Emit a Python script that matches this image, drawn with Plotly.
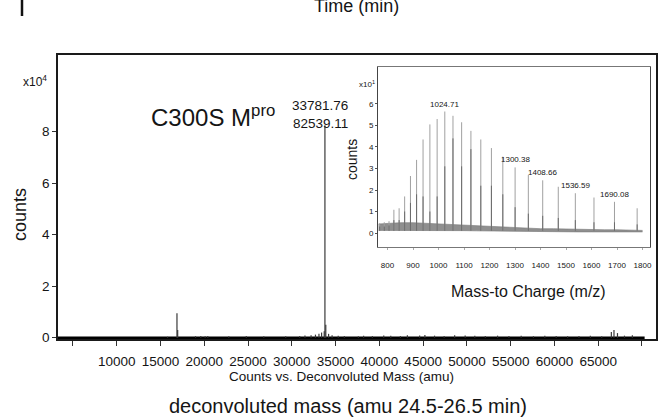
import plotly.graph_objects as go

# ---------------- data ----------------
# Main deconvoluted spectrum (mass in amu, counts in units of 1e4)
main_mass = [15800, 16880, 16960, 19000, 19600, 20100, 20400, 22800, 24800, 26800,
             29300, 30900, 31500, 32200, 32700, 33100, 33400, 33700, 33781.76, 33880,
             34200, 34600, 35300, 36000, 37600, 38200, 39200, 40500, 41300, 42400,
             43200, 44600, 45200, 46300, 47400, 48600, 49800, 50900, 52100, 53500,
             54800, 56200, 57600, 58900, 60200, 61500, 62800, 64100, 65400, 66500,
             66800, 67200, 68000, 68900]
main_counts = [0.04, 0.95, 0.3, 0.06, 0.07, 0.06, 0.07, 0.06, 0.07, 0.06,
               0.06, 0.07, 0.09, 0.1, 0.12, 0.15, 0.2, 0.25, 8.2539, 0.5,
               0.15, 0.1, 0.08, 0.07, 0.06, 0.08, 0.07, 0.09, 0.08, 0.07,
               0.1, 0.09, 0.11, 0.08, 0.07, 0.1, 0.09, 0.08, 0.07, 0.08,
               0.07, 0.08, 0.06, 0.08, 0.07, 0.06, 0.07, 0.08, 0.06, 0.22,
               0.3, 0.18, 0.08, 0.1]
main_baseline_mass = [3290, 70300]
main_baseline_counts = [0.0, 0.0]
main_xticks = [10000, 15000, 20000, 25000, 30000, 35000, 40000, 45000,
               50000, 55000, 60000, 65000]
main_xticklabels = ["10000", "15000", "20000", "25000", "30000", "35000", "40000",
                    "45000", "50000", "55000", "60000", "65000"]
main_xticks_unlabelled = [5000, 70000]
main_yticks = [0, 2, 4, 6, 8]

# Inset m/z spectrum (counts in units of 10^1 as labelled)
inset_mz = [769.3, 787.2, 805.9, 825.0, 845.5, 867.2, 890.0, 914.0, 939.4, 966.2,
            994.6, 1024.71, 1056.7, 1090.7, 1127.1, 1165.9, 1207.5, 1252.2, 1300.38,
            1352.3, 1408.66, 1469.7, 1536.59, 1609.7, 1690.08, 1779.0]
inset_int = [0.45, 0.5, 0.55, 1.08, 1.15, 1.7, 2.65, 3.4, 4.35, 5.05,
             5.3, 5.65, 5.45, 5.15, 4.75, 4.35, 3.95, 3.55, 3.05,
             2.7, 2.45, 2.15, 1.85, 1.65, 1.45, 1.15]
inset_core = [0.3, 0.3, 0.35, 0.6, 0.6, 1.0, 1.4, 1.8, 1.7, 1.0,
              1.7, 3.1, 4.4, 3.1, 3.9, 2.2, 2.2, 1.8, 1.2,
              0.9, 0.8, 0.7, 0.6, 0.5, 0.5, 0.4]
inset_noise_mz = [765, 800, 850, 900, 950, 1000, 1050, 1100, 1150, 1200, 1250,
                  1300, 1350, 1400, 1450, 1500, 1550, 1600, 1650, 1700, 1750, 1800]
inset_noise_hi = [0.42, 0.45, 0.48, 0.48, 0.45, 0.42, 0.4, 0.35, 0.32, 0.3, 0.28,
                  0.25, 0.22, 0.2, 0.2, 0.18, 0.17, 0.16, 0.15, 0.15, 0.14, 0.12]
inset_noise_lo = [0.12, 0.12, 0.14, 0.14, 0.13, 0.12, 0.12, 0.11, 0.1, 0.09, 0.08,
                  0.08, 0.07, 0.07, 0.06, 0.06, 0.05, 0.05, 0.05, 0.05, 0.05, 0.05]
inset_labels = ["1024.71", "1300.38", "1408.66", "1536.59", "1690.08"]
inset_xticks = [800, 900, 1000, 1100, 1200, 1300, 1400, 1500, 1600, 1700, 1800]
inset_yticks = [0, 1, 2, 3, 4, 5, 6]

# ---------------- layout geometry ----------------
W, H = 665, 419
L, R, T, B = 58, 656, 55, 339          # main plot area in pixels
IL, IR, IT, IB = 378, 650, 67, 247     # inset plot area in pixels

def px(x, y):
    return (x - L) / (R - L), (B - y) / (B - T)

NARROW = "Liberation Sans Narrow, Arial Narrow, Liberation Sans, Arial, sans-serif"
ARIAL = "Liberation Sans, Arial, Helvetica, sans-serif"
INK = "#151515"

def sticks(xs, ys, base=0.0):
    sx, sy = [], []
    for x, y in zip(xs, ys):
        sx += [x, x, None]
        sy += [base, y, None]
    return sx, sy

fig = go.Figure()

# main spectrum
fig.add_trace(go.Scatter(x=main_baseline_mass, y=main_baseline_counts, mode="lines",
                         line=dict(color="#000000", width=2.5), hoverinfo="skip",
                         showlegend=False))
sx, sy = sticks(main_mass, main_counts)
fig.add_trace(go.Scatter(x=sx, y=sy, mode="lines", line=dict(color="#3a3a3a", width=1.2),
                         showlegend=False, hoverinfo="skip"))

# inset noise band
fig.add_trace(go.Scatter(x=inset_noise_mz, y=inset_noise_lo, mode="lines",
                         line=dict(color="#777", width=0.6), xaxis="x2", yaxis="y2",
                         showlegend=False, hoverinfo="skip"))
fig.add_trace(go.Scatter(x=inset_noise_mz, y=inset_noise_hi, mode="lines", fill="tonexty",
                         fillcolor="rgba(95,95,95,0.7)",
                         line=dict(color="#777", width=0.6), xaxis="x2", yaxis="y2",
                         showlegend=False, hoverinfo="skip"))
sx, sy = sticks(inset_mz, inset_int, base=0.1)
fig.add_trace(go.Scatter(x=sx, y=sy, mode="lines", line=dict(color="#a0a0a0", width=1),
                         xaxis="x2", yaxis="y2", showlegend=False, hoverinfo="skip"))
sx, sy = sticks(inset_mz, inset_core, base=0.1)
fig.add_trace(go.Scatter(x=sx, y=sy, mode="lines", line=dict(color="#6a6a6a", width=1),
                         xaxis="x2", yaxis="y2", showlegend=False, hoverinfo="skip"))

annotations = []

def ann(text, x, y, size, family=ARIAL, angle=0, color=INK, xanchor="center"):
    ax, ay = px(x, y)
    annotations.append(dict(text=text, x=ax, y=ay, xref="paper", yref="paper",
                            showarrow=False, xanchor=xanchor, yanchor="middle",
                            textangle=angle, font=dict(size=size, family=family, color=color)))

ann("Time (min)", 356, 6, 18)
ann("x10<sup>4</sup>", 35, 81, 12, NARROW)
ann("counts", 20, 215, 18, angle=-90)
ann("C300S M<sup>pro</sup>", 213, 116, 24)
ann("33781.76", 320, 105, 13.5, NARROW)
ann("82539.11", 320, 123, 13.5, NARROW)
ann("Counts vs. Deconvoluted Mass (amu)", 341, 376, 13.5, NARROW)
ann("deconvoluted mass (amu 24.5-26.5 min)", 348, 406, 20)
ann("x10<sup>1</sup>", 367, 84, 8, NARROW)
ann("counts", 352, 160, 14, angle=-90)
ann("Mass-to Charge (m/z)", 528, 291, 16)

for lab in inset_labels:
    i = [f"{m:.2f}" for m in inset_mz].index(lab)
    annotations.append(dict(text=lab, x=inset_mz[i], y=inset_int[i], xref="x2", yref="y2",
                            showarrow=False, yanchor="bottom", yshift=1,
                            font=dict(size=8, family=NARROW, color=INK)))

# stray bar top-left (edge of figure above)
bx0, by0 = px(22, 0)
bx1, by1 = px(22, 16)
shapes = [dict(type="line", xref="paper", yref="paper", x0=bx0, y0=by0, x1=bx1, y1=by1,
               line=dict(color="#111", width=2.5))]

fig.update_layout(
    width=W, height=H,
    margin=dict(l=L, r=W - R, t=T, b=H - B, pad=0),
    paper_bgcolor="white", plot_bgcolor="white",
    template="none",
    showlegend=False,
    annotations=annotations,
    shapes=shapes,
    xaxis=dict(range=[3290, 71600], tickmode="array", tickvals=main_xticks,
               ticktext=main_xticklabels, ticks="outside", ticklen=5, tickwidth=1,
               tickcolor="#333",
               minor=dict(tickmode="array", tickvals=main_xticks_unlabelled,
                          ticks="outside", ticklen=5, tickwidth=1, tickcolor="#333"),
               showline=True, linecolor="#1a1a1a", linewidth=1.5,
               mirror=True, showgrid=False, zeroline=False, automargin=False,
               ticklabelstandoff=4,
               tickfont=dict(family=NARROW, size=13.5, color=INK)),
    yaxis=dict(range=[-0.05, 10.98], tickmode="array", tickvals=main_yticks,
               ticks="outside", ticklen=4, tickwidth=1, tickcolor="#333",
               showline=True, linecolor="#1a1a1a", linewidth=1.5, mirror=True,
               showgrid=False, zeroline=False, automargin=False,
               tickfont=dict(family=NARROW, size=13.5, color=INK)),
    xaxis2=dict(domain=[(IL - L) / (R - L), (IR - L) / (R - L)], anchor="y2",
                range=[762.7, 1829.4], tickmode="array", tickvals=inset_xticks,
                ticks="outside", ticklen=2, tickcolor="#aaa", showline=True,
                linecolor="#777", linewidth=1, mirror=True, showgrid=False,
                zeroline=False, automargin=False, ticklabelstandoff=8,
                tickfont=dict(family=NARROW, size=8, color=INK)),
    yaxis2=dict(domain=[(B - IB) / (B - T), (B - IT) / (B - T)], anchor="x2",
                range=[-0.651, 7.72], tickmode="array", tickvals=inset_yticks,
                ticks="outside", ticklen=2, tickcolor="#555", showline=True,
                linecolor="#444", linewidth=1, mirror=True, showgrid=False,
                zeroline=False, automargin=False,
                tickfont=dict(family=NARROW, size=8, color=INK)),
)

fig.write_html("out.html", config={"displayModeBar": False},
               post_script="document.body.style.margin='0';document.body.style.overflow='hidden';")
